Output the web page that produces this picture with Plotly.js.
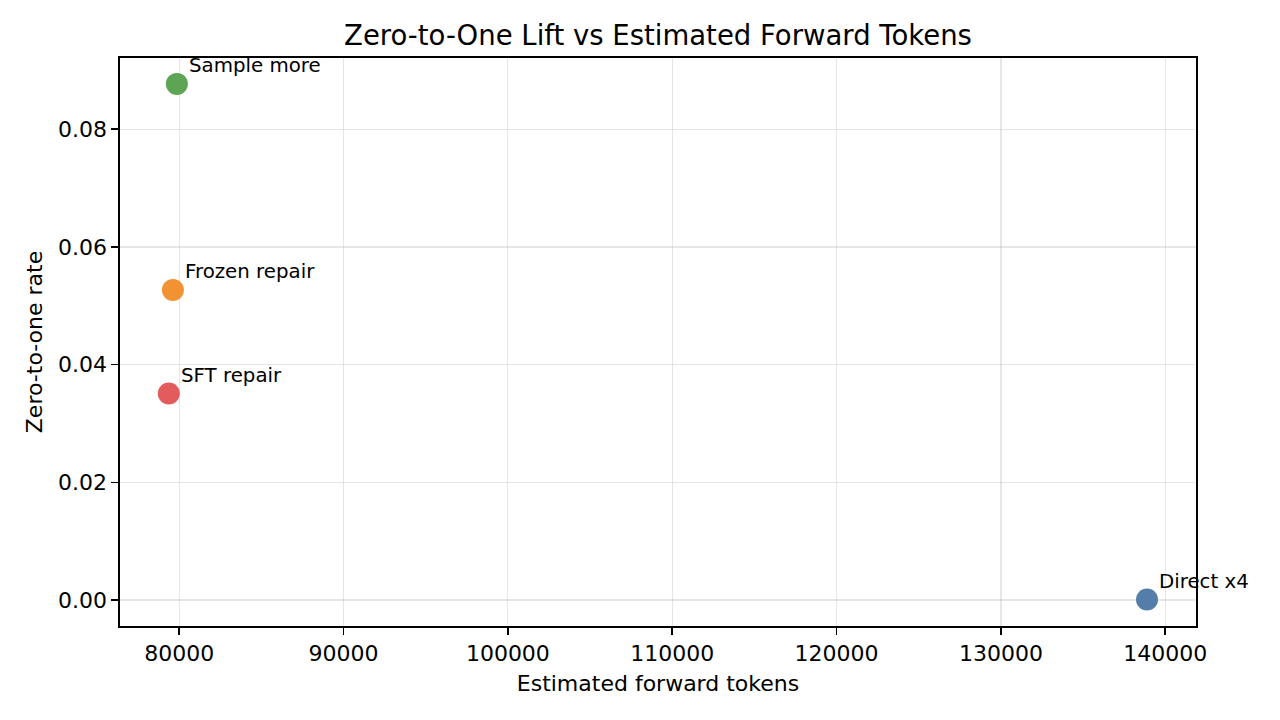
<!DOCTYPE html>
<html>
<head>
<meta charset="utf-8">
<script src="https://cdn.plot.ly/plotly-3.0.1.min.js"></script>
<style>html,body{margin:0;padding:0;background:#fff;}#chart{width:1280px;height:720px;}</style>
</head>
<body>
<div id="chart"></div>
<script>
const methods = ["Direct x4", "Sample more", "Frozen repair", "SFT repair"];
const forwardTokens = [138890, 79860, 79620, 79370];
const zeroToOneRate = [0.0001, 0.0877, 0.0527, 0.0351];
const pointColors = ["#4e79a7", "#59a14f", "#f28e2b", "#e15759"];
const xTicks = [80000, 90000, 100000, 110000, 120000, 130000, 140000];
const yTicks = [0.00, 0.02, 0.04, 0.06, 0.08];

const FONT = "DejaVu Sans, Liberation Sans, sans-serif";

const trace = {
  type: "scatter",
  mode: "markers",
  x: forwardTokens,
  y: zeroToOneRate,
  text: methods,
  marker: { size: 22, color: pointColors, opacity: 0.97, line: { width: 0 } },
  hoverinfo: "text",
  showlegend: false
};

const annotations = methods.map((m, i) => ({
  x: forwardTokens[i],
  y: zeroToOneRate[i],
  xref: "x",
  yref: "y",
  text: m,
  showarrow: false,
  xanchor: "left",
  yanchor: "bottom",
  xshift: 10,
  yshift: 5,
  font: { family: FONT, size: 19.8, color: "#000" }
}));

const axisCommon = {
  showline: true,
  linecolor: "#000",
  linewidth: 1.6,
  mirror: true,
  ticks: "outside",
  ticklen: 7,
  tickwidth: 1.6,
  tickcolor: "#000",
  showgrid: true,
  gridcolor: "rgba(176,176,176,0.32)",
  gridwidth: 1.2,
  zeroline: false,
  tickfont: { family: FONT, size: 22, color: "#000" }
};

const layout = {
  width: 1280,
  height: 720,
  paper_bgcolor: "#fff",
  plot_bgcolor: "#fff",
  margin: { l: 120, r: 84, t: 58, b: 94 },
  font: { family: FONT, color: "#000" },
  title: {
    text: "Zero-to-One Lift vs Estimated Forward Tokens",
    font: { family: FONT, size: 27.5, color: "#000" },
    xref: "paper", x: 0.5, xanchor: "center",
    y: 1 - 35 / 720, yanchor: "middle"
  },
  xaxis: Object.assign({}, axisCommon, {
    range: [76400, 141870],
    tickvals: xTicks,
    ticktext: xTicks.map(v => String(v)),
    title: { text: "Estimated forward tokens", font: { family: FONT, size: 22, color: "#000" }, standoff: 10 }
  }),
  yaxis: Object.assign({}, axisCommon, {
    range: [-0.0044, 0.0921],
    tickvals: yTicks,
    ticktext: yTicks.map(v => v.toFixed(2)),
    title: { text: "Zero-to-one rate", font: { family: FONT, size: 22, color: "#000" }, standoff: 9 }
  }),
  annotations: annotations
};

Plotly.newPlot("chart", [trace], layout, { staticPlot: true, displayModeBar: false });
</script>
</body>
</html>
